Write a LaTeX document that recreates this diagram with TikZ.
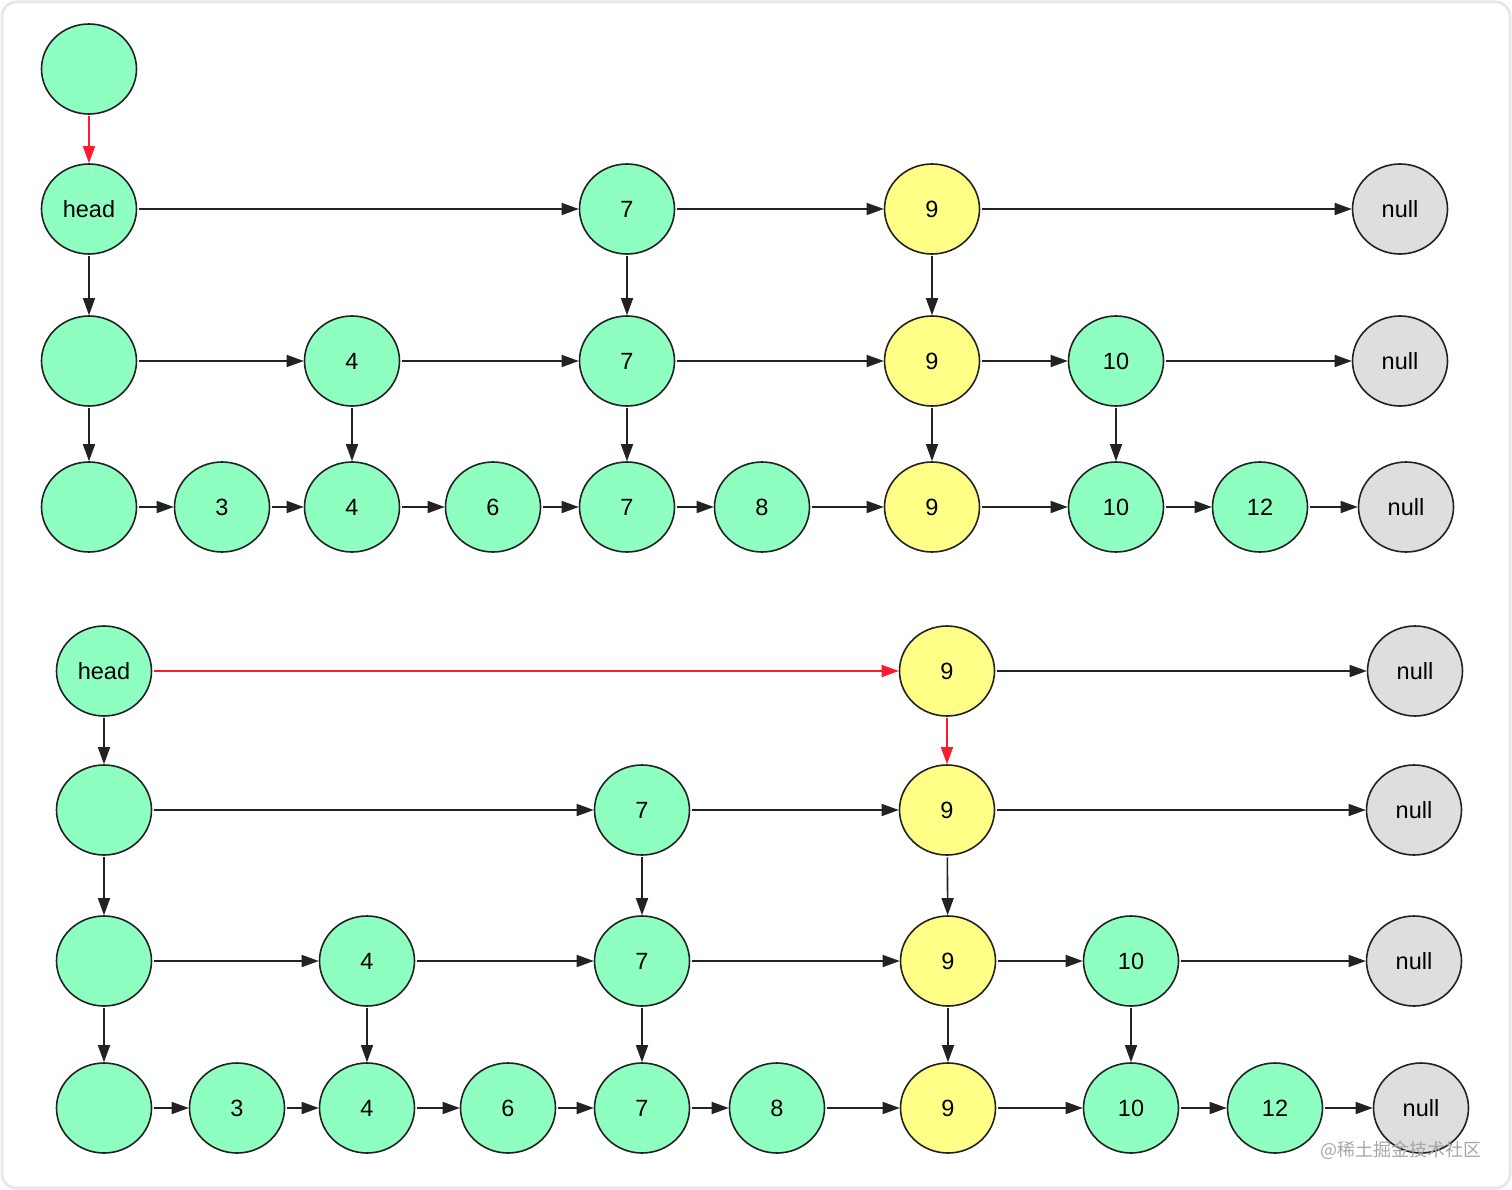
\documentclass[tikz,border=0pt]{standalone}
\usepackage{fontspec}
\setmainfont{Liberation Sans}
\newfontfamily\cjk{Noto Sans CJK SC}
\usetikzlibrary{arrows.meta,shapes.geometric}
\definecolor{gnode}{HTML}{8EFFC1}
\definecolor{ynode}{HTML}{FFFF88}
\definecolor{nnode}{HTML}{DEDEDE}
\definecolor{redarr}{HTML}{FF1A2E}
\definecolor{edgec}{HTML}{222222}
\tikzset{
  lnode/.style={ellipse, draw=edgec, line width=1.6pt, minimum width=95pt, minimum height=90pt, inner sep=0pt, fill=gnode, font=\fontsize{23.5}{26}\selectfont},
  gn/.style={lnode, fill=gnode},
  yn/.style={lnode, fill=ynode},
  nn/.style={lnode, fill=nnode},
  conn/.style={draw=edgec, line width=1.6pt, -{Triangle[length=17pt,width=12pt]}, shorten <=1.5pt},
  redconn/.style={conn, draw=redarr, -{Triangle[length=17pt,width=12pt,fill=redarr]}},
}
\begin{document}
\begin{tikzpicture}[x=1pt,y=-1pt]
\useasboundingbox (0,0) rectangle (1512,1190);
\draw[draw=black!9, line width=3pt, rounded corners=14pt] (2,2) rectangle (1510,1188);
% ---------- top ----------
\node[gn] (e0) at (89,69) {};
\node[gn] (th) at (89,209) {head};
\node[gn] (t17) at (627,209) {7};
\node[yn] (t19) at (932,209) {9};
\node[nn] (t1n) at (1400,209) {null};
\node[gn] (t2e) at (89,361) {};
\node[gn] (t24) at (352,361) {4};
\node[gn] (t27) at (627,361) {7};
\node[yn] (t29) at (932,361) {9};
\node[gn] (t210) at (1116,361) {10};
\node[nn] (t2n) at (1400,361) {null};
\node[gn] (t3e) at (89,507) {};
\node[gn] (t33) at (222,507) {3};
\node[gn] (t34) at (352,507) {4};
\node[gn] (t36) at (493,507) {6};
\node[gn] (t37) at (627,507) {7};
\node[gn] (t38) at (762,507) {8};
\node[yn] (t39) at (932,507) {9};
\node[gn] (t310) at (1116,507) {10};
\node[gn] (t312) at (1260,507) {12};
\node[nn] (t3n) at (1406,507) {null};
\draw[redconn] (e0) -- (th);
\draw[conn] (th) -- (t17);
\draw[conn] (t17) -- (t19);
\draw[conn] (t19) -- (t1n);
\draw[conn] (th) -- (t2e);
\draw[conn] (t17) -- (t27);
\draw[conn] (t19) -- (t29);
\draw[conn] (t2e) -- (t24);
\draw[conn] (t24) -- (t27);
\draw[conn] (t27) -- (t29);
\draw[conn] (t29) -- (t210);
\draw[conn] (t210) -- (t2n);
\draw[conn] (t2e) -- (t3e);
\draw[conn] (t24) -- (t34);
\draw[conn] (t27) -- (t37);
\draw[conn] (t29) -- (t39);
\draw[conn] (t210) -- (t310);
\draw[conn] (t3e) -- (t33);
\draw[conn] (t33) -- (t34);
\draw[conn] (t34) -- (t36);
\draw[conn] (t36) -- (t37);
\draw[conn] (t37) -- (t38);
\draw[conn] (t38) -- (t39);
\draw[conn] (t39) -- (t310);
\draw[conn] (t310) -- (t312);
\draw[conn] (t312) -- (t3n);
% ---------- bottom ----------
\node[gn] (bh) at (104,671) {head};
\node[yn] (b19) at (947,671) {9};
\node[nn] (b1n) at (1415,671) {null};
\node[gn] (b2e) at (104,810) {};
\node[gn] (b27) at (642,810) {7};
\node[yn] (b29) at (947,810) {9};
\node[nn] (b2n) at (1414,810) {null};
\node[gn] (b3e) at (104,961) {};
\node[gn] (b34) at (367,961) {4};
\node[gn] (b37) at (642,961) {7};
\node[yn] (b39) at (948,961) {9};
\node[gn] (b310) at (1131,961) {10};
\node[nn] (b3n) at (1414,961) {null};
\node[gn] (b4e) at (104,1108) {};
\node[gn] (b43) at (237,1108) {3};
\node[gn] (b44) at (367,1108) {4};
\node[gn] (b46) at (508,1108) {6};
\node[gn] (b47) at (642,1108) {7};
\node[gn] (b48) at (777,1108) {8};
\node[yn] (b49) at (948,1108) {9};
\node[gn] (b410) at (1131,1108) {10};
\node[gn] (b412) at (1275,1108) {12};
\node[nn] (b4n) at (1421,1108) {null};
\draw[redconn] (bh) -- (b19);
\draw[conn] (b19) -- (b1n);
\draw[conn] (bh) -- (b2e);
\draw[redconn] (b19) -- (b29);
\draw[conn] (b2e) -- (b27);
\draw[conn] (b27) -- (b29);
\draw[conn] (b29) -- (b2n);
\draw[conn] (b2e) -- (b3e);
\draw[conn] (b27) -- (b37);
\draw[conn] (b29) -- (b39);
\draw[conn] (b3e) -- (b34);
\draw[conn] (b34) -- (b37);
\draw[conn] (b37) -- (b39);
\draw[conn] (b39) -- (b310);
\draw[conn] (b310) -- (b3n);
\draw[conn] (b3e) -- (b4e);
\draw[conn] (b34) -- (b44);
\draw[conn] (b37) -- (b47);
\draw[conn] (b39) -- (b49);
\draw[conn] (b310) -- (b410);
\draw[conn] (b4e) -- (b43);
\draw[conn] (b43) -- (b44);
\draw[conn] (b44) -- (b46);
\draw[conn] (b46) -- (b47);
\draw[conn] (b47) -- (b48);
\draw[conn] (b48) -- (b49);
\draw[conn] (b49) -- (b410);
\draw[conn] (b410) -- (b412);
\draw[conn] (b412) -- (b4n);
\node[font=\cjk\fontsize{18}{20}\selectfont, text=black!35, inner sep=0pt] (wm) at (1401,1150) {@稀土掘金技术社区};
\end{tikzpicture}
\end{document}
